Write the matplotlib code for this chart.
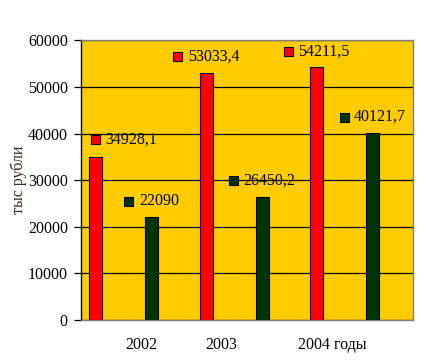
import numpy as np
import matplotlib
matplotlib.use("Agg")
import matplotlib.pyplot as plt
from matplotlib.offsetbox import AnnotationBbox, HPacker, DrawingArea, TextArea
from matplotlib.patches import Rectangle

# data
years = ["2002", "2003", "2004 годы"]
series_a = [34928.1, 53033.4, 54211.5]   # red bars
series_b = [22090, 26450.2, 40121.7]     # dark green bars
labels_a = ["34928,1", "53033,4", "54211,5"]
labels_b = ["22090", "26450,2", "40121,7"]

plt.rcParams['font.family'] = ['Liberation Serif', 'DejaVu Serif']
fs = 11.5

fig = plt.figure(figsize=(4.27, 3.64), dpi=100)
ax = fig.add_axes([0.1897, 0.1209, 0.7775, 0.7679])
ax.set_facecolor("#FFCC00")

x = np.arange(len(years))
w = 0.117
xa = x + 0.131
xb = x + 0.637
ax.bar(xa, series_a, width=w, color="#FF0000", edgecolor="black", linewidth=0.8, zorder=3)
ax.bar(xb, series_b, width=w, color="#003300", edgecolor="black", linewidth=0.8, zorder=3)

ax.set_xlim(0, 3)
ax.set_ylim(0, 60000)
ax.set_yticks(np.arange(0, 60001, 10000))
ax.yaxis.grid(True, color="black", linewidth=0.9, zorder=1)
ax.set_axisbelow(True)
ax.tick_params(axis="y", direction="out", length=5, width=0.9, labelsize=fs, pad=4.5)
ax.set_xticks([])
ax.set_ylabel("тыс рубли", fontsize=fs, color="#3a2a20", labelpad=0.5)

for s in ["top", "right", "bottom"]:
    ax.spines[s].set_color("#808080")
    ax.spines[s].set_linewidth(1.0)
ax.spines["left"].set_color("black")
ax.spines["left"].set_linewidth(1.0)

# category labels under the axis
label_pos = [0.548, 1.271, 2.267]
for p, t in zip(label_pos, years):
    ax.text(p, -0.09, t, transform=ax.get_xaxis_transform(), ha="center", va="center", fontsize=fs)


def add_label(xv, yv, txt, col, first=False):
    da = DrawingArea(6.5, 6.5, 0, 0)
    da.add_artist(Rectangle((0, 0), 6.5, 6.5, facecolor=col, edgecolor="black", linewidth=0.8))
    ta = TextArea(txt, textprops=dict(fontsize=fs))
    box = HPacker(children=[da, ta], align="center", pad=0, sep=4)
    if first:
        ab = AnnotationBbox(box, (xv - w / 2, yv), xybox=(1.2, 13), xycoords="data",
                            boxcoords="offset points", box_alignment=(0, 0.5), frameon=False)
    else:
        ab = AnnotationBbox(box, (xv, yv), xybox=(0, 11.5), xycoords="data",
                            boxcoords="offset points", box_alignment=(0.5, 0.5), frameon=False)
    ab.set_zorder(5)
    ax.add_artist(ab)


for i in range(len(years)):
    add_label(xa[i], series_a[i], labels_a[i], "#FF0000", first=(i == 0))
    add_label(xb[i], series_b[i], labels_b[i], "#003300")

fig.savefig("out.png", dpi=100)
